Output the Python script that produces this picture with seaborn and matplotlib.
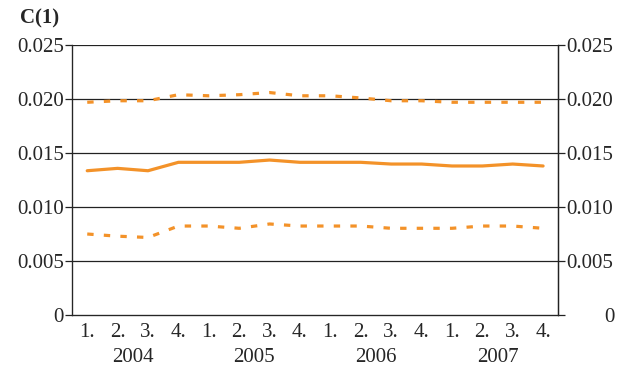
import pandas as pd
import numpy as np
import matplotlib
matplotlib.use('Agg')
import matplotlib.pyplot as plt
import matplotlib.transforms as mtransforms
import seaborn as sns

years = ['2004', '2005', '2006', '2007']
quarters = ['1.', '2.', '3.', '4.']

coef = [0.01336, 0.01358, 0.01336, 0.01414,
        0.01414, 0.01414, 0.01435, 0.01414,
        0.01414, 0.01414, 0.01398, 0.01398,
        0.01380, 0.01380, 0.01398, 0.01380]
upper = [0.01970, 0.01984, 0.01984, 0.02040,
         0.02030, 0.02040, 0.02060, 0.02030,
         0.02030, 0.02010, 0.01984, 0.01984,
         0.01970, 0.01970, 0.01970, 0.01970]
lower = [0.00750, 0.00730, 0.00718, 0.00824,
         0.00824, 0.00803, 0.00843, 0.00824,
         0.00824, 0.00824, 0.00803, 0.00803,
         0.00803, 0.00824, 0.00824, 0.00803]
yticks = [0, 0.005, 0.010, 0.015, 0.020, 0.025]
ytick_labels = ['0', '0.005', '0.010', '0.015', '0.020', '0.025']

orange = '#F39229'

sns.set_style('white')
plt.rcParams['font.family'] = ['Liberation Serif', 'DejaVu Serif']

n = len(coef)
df = pd.DataFrame({
    'x': list(range(n)) * 3,
    'value': coef + upper + lower,
    'series': ['C(1)'] * n + ['+2 S.E.'] * n + ['-2 S.E.'] * n,
})

fig = plt.figure(figsize=(6.21, 3.70), dpi=100)
ax = fig.add_axes([0.116, 0.1486, 0.783, 0.7297])

sns.lineplot(data=df, x='x', y='value', hue='series', style='series',
             palette=[orange, orange, orange],
             dashes={'C(1)': '', '+2 S.E.': (2, 3.2), '-2 S.E.': (2, 3.2)},
             linewidth=2.3, legend=False, ax=ax)
for line in ax.get_lines():
    line.set_dash_capstyle('butt')

ax.set_xlim(-0.5, n - 0.5)
ax.set_ylim(0, 0.025)
ax.set_yticks(yticks)
ax.set_yticklabels(ytick_labels)
for y in yticks[1:]:
    ax.axhline(y, color='#222222', lw=0.9, zorder=0)

ax.set_xticks(np.arange(n))
ax.set_xticklabels(quarters * len(years))
ax.set_xticks(np.arange(-0.5, n, 1.0), minor=True)
ax.tick_params(axis='x', which='major', length=0, pad=6, labelsize=15)
ax.tick_params(axis='x', which='minor', length=5, width=0.9, direction='out', color='#222222')
ax.tick_params(axis='y', length=5, width=0.9, direction='out', color='#222222', labelsize=15, pad=1)
ax.set_xlabel('')
ax.set_ylabel('')

ax.spines['top'].set_visible(False)
for s in ['left', 'right', 'bottom']:
    ax.spines[s].set_color('#222222')
    ax.spines[s].set_linewidth(0.9)

ax2 = ax.twinx()
ax2.set_ylim(ax.get_ylim())
ax2.set_yticks(yticks)
ax2.set_yticklabels(ytick_labels)
ax2.tick_params(axis='y', length=5, width=0.9, direction='out', color='#222222', labelsize=15, pad=1)
ax2.spines['top'].set_visible(False)
ax2.spines['right'].set_color('#222222')
ax2.spines['right'].set_linewidth(0.9)
# the right-hand "0" sits further out in the original
zero_lbl = ax2.get_yticklabels()[0]
zero_lbl.set_transform(zero_lbl.get_transform() +
                       mtransforms.ScaledTranslation(38 / 100, 0, fig.dpi_scale_trans))

trans = mtransforms.blended_transform_factory(ax.transData, ax.transAxes)
for i, yr in enumerate(years):
    ax.text(i * 4 + 1.5, -0.158, yr, transform=trans, ha='center', va='center', fontsize=15)

fig.text(20 / 621, 1 - 18 / 370, 'C(1)', ha='left', va='center', fontsize=15, fontweight='bold')

fig.savefig('out.png', dpi=100)
